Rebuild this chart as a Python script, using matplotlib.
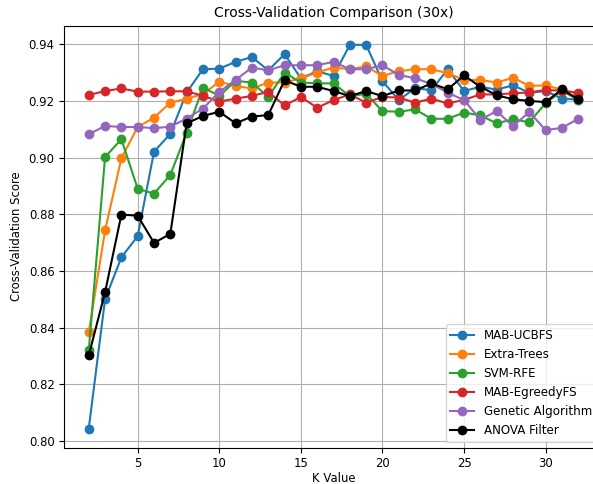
import matplotlib
matplotlib.use("Agg")
import matplotlib.pyplot as plt

k_values = list(range(2, 33))

mab_ucbfs = [0.8044, 0.8500, 0.8648, 0.8723, 0.9021, 0.9084, 0.9230, 0.9312, 0.9314, 0.9338,
             0.9355, 0.9308, 0.9365, 0.9280, 0.9305, 0.9288, 0.9398, 0.9398, 0.9270, 0.9203,
             0.9245, 0.9238, 0.9312, 0.9235, 0.9250, 0.9240, 0.9255, 0.9229, 0.9235, 0.9208,
             0.9205]
extra_trees = [0.8383, 0.8743, 0.8998, 0.9108, 0.9141, 0.9194, 0.9208, 0.9224, 0.9268, 0.9253,
               0.9244, 0.9265, 0.9265, 0.9280, 0.9300, 0.9318, 0.9312, 0.9322, 0.9288, 0.9305,
               0.9312, 0.9312, 0.9298, 0.9274, 0.9274, 0.9265, 0.9282, 0.9253, 0.9255, 0.9240,
               0.9225]
svm_rfe = [0.8320, 0.9002, 0.9065, 0.8890, 0.8873, 0.8939, 0.9088, 0.9247, 0.9218, 0.9271,
           0.9265, 0.9214, 0.9300, 0.9265, 0.9262, 0.9262, 0.9217, 0.9225, 0.9164, 0.9162,
           0.9170, 0.9137, 0.9137, 0.9159, 0.9149, 0.9121, 0.9135, 0.9125, 0.9192, 0.9235,
           0.9205]
mab_egreedy = [0.9221, 0.9235, 0.9244, 0.9233, 0.9233, 0.9234, 0.9234, 0.9218, 0.9198, 0.9208,
               0.9218, 0.9232, 0.9184, 0.9214, 0.9176, 0.9203, 0.9223, 0.9194, 0.9214, 0.9212,
               0.9194, 0.9208, 0.9191, 0.9204, 0.9223, 0.9223, 0.9227, 0.9230, 0.9239, 0.9236,
               0.9229]
genetic = [0.9082, 0.9112, 0.9108, 0.9108, 0.9104, 0.9109, 0.9138, 0.9173, 0.9232, 0.9274,
           0.9318, 0.9308, 0.9326, 0.9326, 0.9326, 0.9338, 0.9312, 0.9312, 0.9326, 0.9292,
           0.9280, 0.9260, 0.9229, 0.9203, 0.9134, 0.9164, 0.9111, 0.9161, 0.9097, 0.9105,
           0.9137]
anova = [0.8302, 0.8525, 0.8799, 0.8795, 0.8699, 0.8731, 0.9121, 0.9147, 0.9162, 0.9121,
         0.9145, 0.9150, 0.9273, 0.9250, 0.9250, 0.9235, 0.9217, 0.9235, 0.9217, 0.9237,
         0.9237, 0.9262, 0.9241, 0.9290, 0.9250, 0.9220, 0.9206, 0.9200, 0.9196, 0.9241,
         0.9206]

series = [
    ("MAB-UCBFS", mab_ucbfs, "#1f77b4"),
    ("Extra-Trees", extra_trees, "#ff7f0e"),
    ("SVM-RFE", svm_rfe, "#2ca02c"),
    ("MAB-EgreedyFS", mab_egreedy, "#d62728"),
    ("Genetic Algorithm", genetic, "#9467bd"),
    ("ANOVA Filter", anova, "black"),
]

plt.rcParams["font.size"] = 8.4

fig = plt.figure(figsize=(5.93, 4.84), dpi=100)
# the original is cropped on the right, so the axes run past the figure edge
ax = fig.add_axes([0.1084, 0.075, 0.908, 0.872])

for name, vals, color in series:
    ax.plot(k_values, vals, marker="o", markersize=6, linewidth=1.5, color=color, label=name)

ax.set_title("Cross-Validation Comparison (30x)", fontsize=10)
ax.set_xlabel("K Value", labelpad=1)
ax.set_ylabel("Cross-Validation Score")
ax.grid(True)
ax.legend(loc="lower right", fontsize=8.6)

fig.savefig("out.png", dpi=100)
